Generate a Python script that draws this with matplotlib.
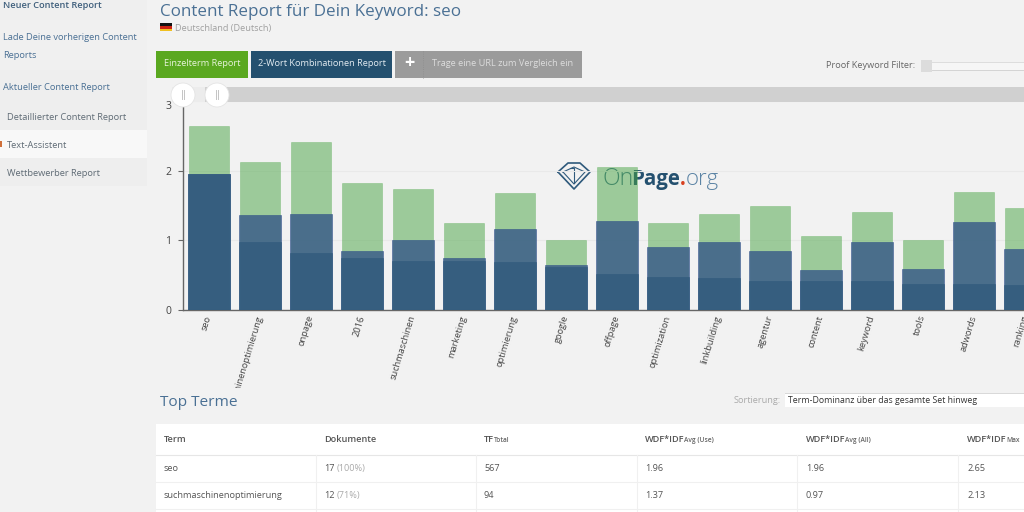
import matplotlib
matplotlib.use('Agg')
import matplotlib.pyplot as plt
from matplotlib.patches import Rectangle, Circle
from matplotlib.transforms import Bbox
import numpy as np

plt.rcParams['font.family'] = ['Open Sans', 'DejaVu Sans']

# chart data
terms = ['seo', 'suchmaschinenoptimierung', 'onpage', '2016', 'suchmaschinen', 'marketing',
         'optimierung', 'google', 'offpage', 'optimization', 'linkbuilding', 'agentur',
         'content', 'keyword', 'tools', 'adwords', 'ranking']
wdf_max = [2.64, 2.12, 2.41, 1.82, 1.73, 1.25, 1.68, 1.00, 2.05, 1.25, 1.38, 1.49, 1.06, 1.41, 1.00, 1.70, 1.47]
wdf_avg_use = [1.95, 1.37, 1.38, 0.84, 1.01, 0.74, 1.16, 0.65, 1.28, 0.90, 0.97, 0.85, 0.57, 0.97, 0.59, 1.26, 0.87]
wdf_avg_all = [1.95, 0.97, 0.82, 0.74, 0.71, 0.70, 0.69, 0.62, 0.52, 0.48, 0.46, 0.41, 0.41, 0.41, 0.38, 0.37, 0.36]
y_ticks = [0, 1, 2, 3]

# page text
sidebar_items = [('Lade Deine vorherigen Content', 37), ('Reports', 56), ('Aktueller Content Report', 88)]
sub_items = [('Detaillierter Content Report', 117), ('Text-Assistent', 145), ('Wettbewerber Report', 173)]
table_cols = [164, 324, 484, 645, 806, 967]
table_seps = [316, 476, 637, 797, 958]
table_rows = [
    ['seo', '17', '567', '1.96', '1.96', '2.65'],
    ['suchmaschinenoptimierung', '12', '94', '1.37', '0.97', '2.13'],
]
row_pct = ['(100%)', '(71%)']
table_head = [('Term', ''), ('Dokumente', ''), ('TF', 'Total'), ('WDF*IDF', 'Avg (Use)'),
              ('WDF*IDF', 'Avg (All)'), ('WDF*IDF', 'Max')]

W, H = 1024, 512
BG = '#f2f2f2'
TITLE = '#4a7094'

fig = plt.figure(figsize=(W / 100, H / 100), dpi=100, facecolor=BG)


def pixel_axes(z):
    a = fig.add_axes([0, 0, 1, 1], zorder=z)
    a.set_xlim(0, W)
    a.set_ylim(H, 0)
    a.axis('off')
    a.patch.set_alpha(0)
    return a


def box(a, x0, y0, x1, y1, color, **kw):
    a.add_patch(Rectangle((x0, y0), x1 - x0, y1 - y0, facecolor=color, edgecolor='none', **kw))


page = pixel_axes(0)

# sidebar
box(page, 0, 0, 147, 20, '#efefef')
box(page, 0, 20, 147, 70, '#f0f0f0')
box(page, 0, 70, 147, 186, '#eeeeee')
box(page, 0, 130, 147, 158, '#f8f8f8')
box(page, 0, 141, 1.5, 147, '#d0703a')
page.text(3, 5, 'Neuer Content Report', fontsize=6.7, color='#3f5f7c', weight='semibold', va='center')
for s, y in sidebar_items:
    page.text(3, y, s, fontsize=6.7, color='#4a7094', va='center')
for s, y in sub_items:
    page.text(7, y, s, fontsize=6.7, color='#5f6b75', va='center')

# header
page.text(160, 12, 'Content Report für Dein Keyword: seo', fontsize=12.25, color=TITLE, va='center')
box(page, 160, 23, 172, 26, '#111111')
box(page, 160, 26, 172, 28.5, '#cc2211')
box(page, 160, 28.5, 172, 31, '#f0c020')
page.text(175, 28.5, 'Deutschland (Deutsch)', fontsize=6.6, color='#a0a0a0', va='center')

# buttons
box(page, 156, 51, 248, 78, '#5aa820')
box(page, 251, 51, 392, 78, '#24506f')
box(page, 395, 51, 582, 78, '#9b9b9b')
page.plot([423, 423], [51, 78], color='#8c8c8c', lw=0.6, ls=':')
page.text(202, 64, 'Einzelterm Report', fontsize=6.6, color='#e8f4dc', ha='center', va='center')
page.text(321.5, 64, '2-Wort Kombinationen Report', fontsize=6.6, color='#e4ecf2', ha='center', va='center')
page.text(409, 63.5, '+', fontsize=13, color='white', weight='bold', ha='center', va='center')
page.text(503, 64, 'Trage eine URL zum Vergleich ein', fontsize=6.6, color='#dddddd', ha='center', va='center')

# keyword filter
page.text(915, 65.5, 'Proof Keyword Filter:', fontsize=6.6, color='#666666', ha='right', va='center')
box(page, 932, 62, 1024, 70, '#f6f6f6')
page.plot([932, 1024], [62, 62], color='#dddddd', lw=0.7)
page.plot([932, 1024], [70, 70], color='#d4d4d4', lw=0.7)
box(page, 921, 60, 932, 72, '#dcdcdc')

# logo sits under the bars
dx = [558, 568, 574, 580, 590, 574, 558]
dy = [172, 163, 163, 163, 172, 189, 172]
page.plot(dx, dy, color='#2f5a7c', lw=1.2)
page.plot([563, 574, 585, 574, 563], [172, 167, 172, 184, 172], color='#2f5a7c', lw=0.8)
page.plot([570, 574, 574], [168, 168, 183], color='#2f5a7c', lw=0.8)
page.text(602, 185, 'On', fontsize=16.5, color='#3f6f8a', weight='light', va='baseline')
page.text(631, 185, 'Page', fontsize=14.8, color='#24506f', weight='bold', va='baseline')
page.text(680, 185, '.', fontsize=14.8, color='#d8401f', weight='bold', va='baseline')
page.text(686, 185, 'org', fontsize=16, color='#5c84a5', weight='light', va='baseline')

# lower part
page.text(160, 402, 'Top Terme', fontsize=11.1, color=TITLE, va='center')
page.text(781, 400.5, 'Sortierung:', fontsize=6.6, color='#aaaaaa', ha='right', va='center')
box(page, 785, 393, 1024, 407, 'white')
page.plot([785, 1024], [392.5, 392.5], color='#d8d8d8', lw=0.7)
page.text(788, 400.5, 'Term-Dominanz über das gesamte Set hinweg', fontsize=6.3, color='#333333', va='center')

box(page, 156, 424, W, H, 'white')
page.imshow(np.linspace(1, 0.965, 30).reshape(-1, 1), extent=(156, W, 455, 424), cmap='gray',
            vmin=0, vmax=1, aspect='auto')
page.set_xlim(0, W)
page.set_ylim(H, 0)
page.plot([156, W], [455, 455], color='#e6e6e6', lw=0.8)
page.plot([156, W], [482, 482], color='#f0f0f0', lw=0.8)
page.plot([156, W], [509, 509], color='#f0f0f0', lw=0.8)
for x in table_seps:
    page.plot([x, x], [455, H], color='#f0f0f0', lw=0.8)
for x, (main, sub) in zip(table_cols, table_head):
    t = page.text(x, 442, main, fontsize=6.6, color='#555555', weight='semibold', va='baseline')
    if sub:
        bb = t.get_window_extent(fig.canvas.get_renderer())
        page.text(bb.x1 - 0.5, 442, sub, fontsize=4.8, color='#666666', weight='semibold', va='baseline')
for row, pct, y in zip(table_rows, row_pct, [471, 498]):
    for x, s in zip(table_cols, row):
        page.text(x, y, s, fontsize=6.6, color='#555555', va='baseline')
    page.text(337, y, pct, fontsize=6.6, color='#aaaaaa', va='baseline')

# chart, runs past the right edge of the page so the last bar is cut
x0_px, x1_px, y0_px, y3_px = 183, 1060, 310, 101
ax = fig.add_axes([x0_px / W, 1 - y0_px / H, (x1_px - x0_px) / W, (y0_px - y3_px) / H], zorder=1)
ax.patch.set_alpha(0)
x = np.arange(len(terms))
ax.set_xlim((x0_px - 209) / 51, (x1_px - 209) / 51)
ax.set_ylim(0, 3)

ax.bar(x, wdf_max, width=0.8, color='#48a444', alpha=0.5, edgecolor='#48a444', linewidth=0.4, zorder=2)
ax.bar(x, wdf_avg_use, width=0.81, color='#305287', alpha=0.76, edgecolor='#305287', linewidth=0.5, zorder=3)
ax.bar(x, wdf_avg_all, width=0.81, color='#305a7c', alpha=0.76, edgecolor='#305a7c', linewidth=0.5, zorder=4)

ax.set_yticks(y_ticks)
ax.yaxis.grid(True, color='#e9e9e9', lw=0.8)
ax.set_axisbelow(True)
ax.tick_params(axis='y', length=3.5, width=0.8, color='#666666', labelsize=7.5, labelcolor='#444444', pad=5)
ax.get_yticklabels()[3].set_va('top')
ax.set_xticks(x)
ax.set_xticklabels(terms, rotation=73, rotation_mode='anchor', ha='right', va='center',
                   fontsize=6.7, color='#444444')
ax.tick_params(axis='x', length=0, pad=4)
clip = Bbox([[0, H - 388], [W, H]])
for lab in ax.get_xticklabels():
    lab.set_clip_on(True)
    lab.set_clip_box(clip)
for side in ['top', 'right']:
    ax.spines[side].set_visible(False)
for side in ['left', 'bottom']:
    ax.spines[side].set_color('#666666')
    ax.spines[side].set_linewidth(1)

# range slider on top of the chart
top = pixel_axes(2)
box(top, 172, 87, 205, 102, '#ececec')
box(top, 205, 87, W, 102, '#d0d0d0')
for cx in [183, 217]:
    top.add_patch(Circle((cx, 95), 12, facecolor='white', edgecolor='#e4e4e4', lw=0.6))
    top.plot([cx - 1.5, cx - 1.5], [90, 99], color='#c4c4c4', lw=0.7)
    top.plot([cx + 1, cx + 1], [90, 99], color='#c4c4c4', lw=0.7)

fig.savefig('out.png', dpi=100, facecolor=BG)
